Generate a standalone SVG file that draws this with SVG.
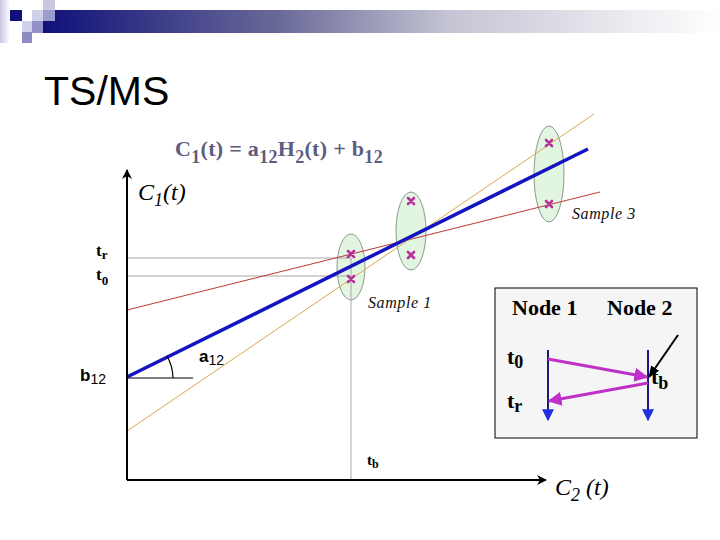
<svg xmlns="http://www.w3.org/2000/svg" width="720" height="540" viewBox="0 0 720 540">
<defs>
<linearGradient id="bar" x1="0" y1="0" x2="1" y2="0">
<stop offset="0" stop-color="#10107a"/>
<stop offset="0.35" stop-color="#6a6a98"/>
<stop offset="0.6" stop-color="#c4c4d4"/>
<stop offset="1" stop-color="#ffffff"/>
</linearGradient>
<linearGradient id="edge" x1="0" y1="0" x2="1" y2="0">
<stop offset="0" stop-color="#c8c8e4"/>
<stop offset="1" stop-color="#ffffff"/>
</linearGradient>
<marker id="blk" viewBox="0 0 10 10" refX="9" refY="5" markerWidth="10" markerHeight="10" markerUnits="userSpaceOnUse" orient="auto">
<path d="M0,0 L10,5 L0,10 L3,5 Z" fill="#000"/>
</marker>
<marker id="blu" viewBox="0 0 10 10" refX="9" refY="5" markerWidth="12" markerHeight="12" markerUnits="userSpaceOnUse" orient="auto">
<path d="M0,0 L10,5 L0,10 Z" fill="#1e2ee0"/>
</marker>
<marker id="mag" viewBox="0 0 10 10" refX="9" refY="5" markerWidth="14" markerHeight="14" markerUnits="userSpaceOnUse" orient="auto">
<path d="M0,0 L10,5 L0,10 Z" fill="#c030c8"/>
</marker>
<marker id="blk2" viewBox="0 0 10 10" refX="9" refY="5" markerWidth="12" markerHeight="12" markerUnits="userSpaceOnUse" orient="auto">
<path d="M0,1 L10,5 L0,9 Z" fill="#000"/>
</marker>
</defs>
<style>
.ser{font-family:"Liberation Serif","DejaVu Serif",serif}
.sans{font-family:"Liberation Sans",Arial,sans-serif}
.ell{fill:#e2f5e0;stroke:#8a9a8a;stroke-width:1}
.x{stroke:#b8309c;stroke-width:2.6;stroke-linecap:round}
.grid{stroke:#a8a8a8;stroke-width:1}
.samp{font-family:"Liberation Serif",serif;font-style:italic;font-size:16px;letter-spacing:0.6px;fill:#111}
</style>
<rect width="720" height="540" fill="#fff"/>
<g id="header">
<rect x="0" y="0" width="10" height="43" fill="url(#edge)"/>
<rect x="43" y="10" width="677" height="23" fill="url(#bar)"/>
<rect x="10" y="10" width="12" height="11" fill="#10107a"/>
<rect x="43" y="0" width="12" height="10" fill="#c8c8e0"/>
<rect x="32" y="10" width="11" height="11" fill="#d0d0e8"/>
<rect x="43" y="10" width="12" height="11" fill="#9c9cce"/>
<rect x="22" y="21" width="10" height="11" fill="#d0d0ec"/>
<rect x="32" y="21" width="11" height="12" fill="#9292c8"/>
<rect x="22" y="32" width="10" height="11" fill="#8c8cc0"/>
</g>
<text x="44" y="105" class="sans" font-size="41" fill="#000">TS/MS</text>
<text x="175" y="156" class="ser" font-weight="bold" font-size="22" letter-spacing="0.3" fill="#5c5c80">C<tspan font-size="18" dy="7">1</tspan><tspan dy="-7">(t) = a</tspan><tspan font-size="18" dy="7">12</tspan><tspan dy="-7">H</tspan><tspan font-size="18" dy="7">2</tspan><tspan dy="-7">(t) + b</tspan><tspan font-size="18" dy="7">12</tspan></text>
<g id="ellipses">
<ellipse id="sample1" class="ell" cx="351" cy="267" rx="14" ry="33"/>
<ellipse id="sample2" class="ell" cx="411" cy="231" rx="15" ry="39"/>
<ellipse id="sample3" class="ell" cx="549" cy="174" rx="15" ry="48"/>
</g>
<g id="connectors">
<line class="grid" x1="127" y1="258" x2="351" y2="258"/>
<line class="grid" x1="127" y1="276" x2="351" y2="276"/>
<line class="grid" x1="351" y1="258" x2="351" y2="480"/>
<line x1="127" y1="310" x2="600" y2="192" stroke="#c03838" stroke-width="1"/>
<line x1="127" y1="431" x2="594" y2="114" stroke="#d8a848" stroke-width="1"/>
<line x1="127" y1="377" x2="588" y2="149" stroke="#1414c0" stroke-width="3.5"/>
<line x1="127" y1="378" x2="193" y2="378" stroke="#000" stroke-width="1.2"/>
<path d="M173,378 A46,46 0 0 0 167,356" fill="none" stroke="#000" stroke-width="1.2"/>
<line x1="127" y1="480" x2="127" y2="170" stroke="#000" stroke-width="2" marker-end="url(#blk)"/>
<line x1="127" y1="480" x2="546" y2="480" stroke="#000" stroke-width="2" marker-end="url(#blk)"/>
</g>
<g id="crosses">
<path class="x" d="M348,251 l6,6 m0,-6 l-6,6"/>
<path class="x" d="M348,276 l6,6 m0,-6 l-6,6"/>
<path class="x" d="M408,198 l6,6 m0,-6 l-6,6"/>
<path class="x" d="M408,252 l6,6 m0,-6 l-6,6"/>
<path class="x" d="M546,140 l6,6 m0,-6 l-6,6"/>
<path class="x" d="M546,201 l6,6 m0,-6 l-6,6"/>
</g>
<text x="138" y="200" class="ser" font-style="italic" font-size="24" fill="#000">C<tspan font-size="18" dy="6">1</tspan><tspan dy="-6">(t)</tspan></text>
<text x="96" y="256" class="ser" font-weight="bold" font-size="17" fill="#000">t<tspan font-size="13" dy="3">r</tspan></text>
<text x="96" y="280" class="ser" font-weight="bold" font-size="17" fill="#000">t<tspan font-size="13" dy="5">0</tspan></text>
<text x="80" y="381" class="sans" font-weight="bold" font-size="17" fill="#000">b<tspan font-weight="normal" font-size="14" dy="3">12</tspan></text>
<text x="199" y="362" class="sans" font-weight="bold" font-size="17" fill="#000">a<tspan font-weight="normal" font-size="14" dy="3">12</tspan></text>
<text x="368" y="308" class="samp">Sample 1</text>
<text x="572" y="219" class="samp">Sample 3</text>
<text x="367" y="465" class="ser" font-weight="bold" font-size="15" fill="#000">t<tspan font-size="12" dy="3">b</tspan></text>
<text x="555" y="495" class="ser" font-style="italic" font-size="24" fill="#000">C<tspan font-size="18" dy="6">2</tspan><tspan dy="-6"> (t)</tspan></text>
<g id="nodebox">
<rect x="495" y="288" width="202" height="150" fill="#f5f5f5" stroke="#000" stroke-width="1"/>
<text x="512" y="315" class="ser" font-weight="bold" font-size="22" fill="#000">Node 1</text>
<text x="607" y="315" class="ser" font-weight="bold" font-size="22" fill="#000">Node 2</text>
<text x="507" y="364" class="ser" font-weight="bold" font-size="22" fill="#000">t<tspan font-size="18" dy="4">0</tspan></text>
<text x="507" y="408" class="ser" font-weight="bold" font-size="22" fill="#000">t<tspan font-size="18" dy="4">r</tspan></text>
<text x="651" y="384" class="ser" font-weight="bold" font-size="22" fill="#000">t<tspan font-size="18" dy="5">b</tspan></text>
</g>
<g id="nodearrows">
<line x1="548" y1="350" x2="548" y2="420" stroke="#1a1a80" stroke-width="2" marker-end="url(#blu)"/>
<line x1="648" y1="350" x2="648" y2="420" stroke="#1a1a80" stroke-width="2" marker-end="url(#blu)"/>
<line x1="548" y1="359" x2="647" y2="377" stroke="#c030c8" stroke-width="3" marker-end="url(#mag)"/>
<line x1="648" y1="383" x2="549" y2="401" stroke="#c030c8" stroke-width="3" marker-end="url(#mag)"/>
<line x1="678" y1="335" x2="649" y2="377" stroke="#000" stroke-width="2" marker-end="url(#blk2)"/>
</g>
</svg>
